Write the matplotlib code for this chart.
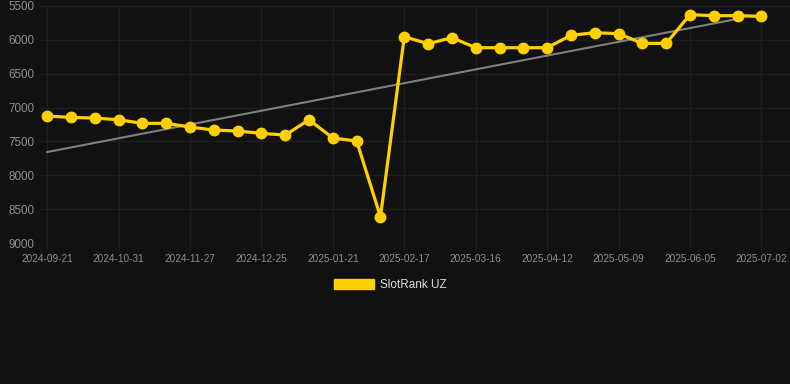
import matplotlib.pyplot as plt
from matplotlib.patches import Patch

# -----------------------------
# Data
# -----------------------------
dates = ["2024-09-21", "2024-10-04", "2024-10-17", "2024-10-31", "2024-11-09",
         "2024-11-18", "2024-11-27", "2024-12-06", "2024-12-15", "2024-12-25",
         "2025-01-03", "2025-01-12", "2025-01-21", "2025-01-30", "2025-02-08",
         "2025-02-17", "2025-02-26", "2025-03-07", "2025-03-16", "2025-03-25",
         "2025-04-03", "2025-04-12", "2025-04-21", "2025-04-30", "2025-05-09",
         "2025-05-18", "2025-05-27", "2025-06-05", "2025-06-14", "2025-06-23",
         "2025-07-02"]

rank = [7125, 7145, 7155, 7180, 7233, 7233, 7287, 7332, 7346, 7381,
        7406, 7180, 7450, 7494, 8612, 5953, 6057, 5968, 6116, 6116,
        6116, 6116, 5933, 5894, 5909, 6052, 6052, 5628, 5643, 5643,
        5653]

# trend line end values (first point and second-to-last point)
trend_x = [0, 29]
trend_y = [7657, 5690]

yticks = [5500, 6000, 6500, 7000, 7500, 8000, 8500, 9000]

# -----------------------------
# Plot
# -----------------------------
plt.rcParams['font.family'] = ['Liberation Sans', 'DejaVu Sans']

bg = "#111111"
grid_c = "#1e1e1e"
yellow = "#FFD000"

fig = plt.figure(figsize=(7.9, 3.84), dpi=100, facecolor=bg)
ax = fig.add_axes([40 / 790, (384 - 243) / 384, 750 / 790, 237 / 384])
ax.set_facecolor(bg)

x = list(range(len(dates)))
ax.plot(trend_x, trend_y, color="#808080", linewidth=1.5, zorder=2)
ax.plot(x, rank, color=yellow, linewidth=2.3, marker="o", markersize=7.5,
        zorder=3, clip_on=False)

ax.set_ylim(9000, 5500)
ax.set_xlim(-0.3, 31.2)
ax.set_yticks(yticks)
ax.set_xticks(x[::3])
ax.set_xticklabels(dates[::3])

ax.grid(True, color=grid_c, linewidth=1)
for s in ax.spines.values():
    s.set_visible(False)
ax.tick_params(axis="x", colors=grid_c, labelcolor="#8f8f8f", labelsize=7.2,
               length=5, pad=3)
ax.tick_params(axis="y", colors=grid_c, labelcolor="#8f8f8f", labelsize=8.4,
               length=0, pad=4)

fig.legend(handles=[Patch(facecolor=yellow, edgecolor=yellow, label="SlotRank UZ")],
           loc="center", bbox_to_anchor=(390 / 790, 1 - 285 / 384),
           frameon=False, fontsize=8.5, labelcolor="#dddddd",
           handlelength=3.4, handleheight=0.95, handletextpad=0.5)

plt.savefig("out.png", dpi=100, facecolor=bg)
